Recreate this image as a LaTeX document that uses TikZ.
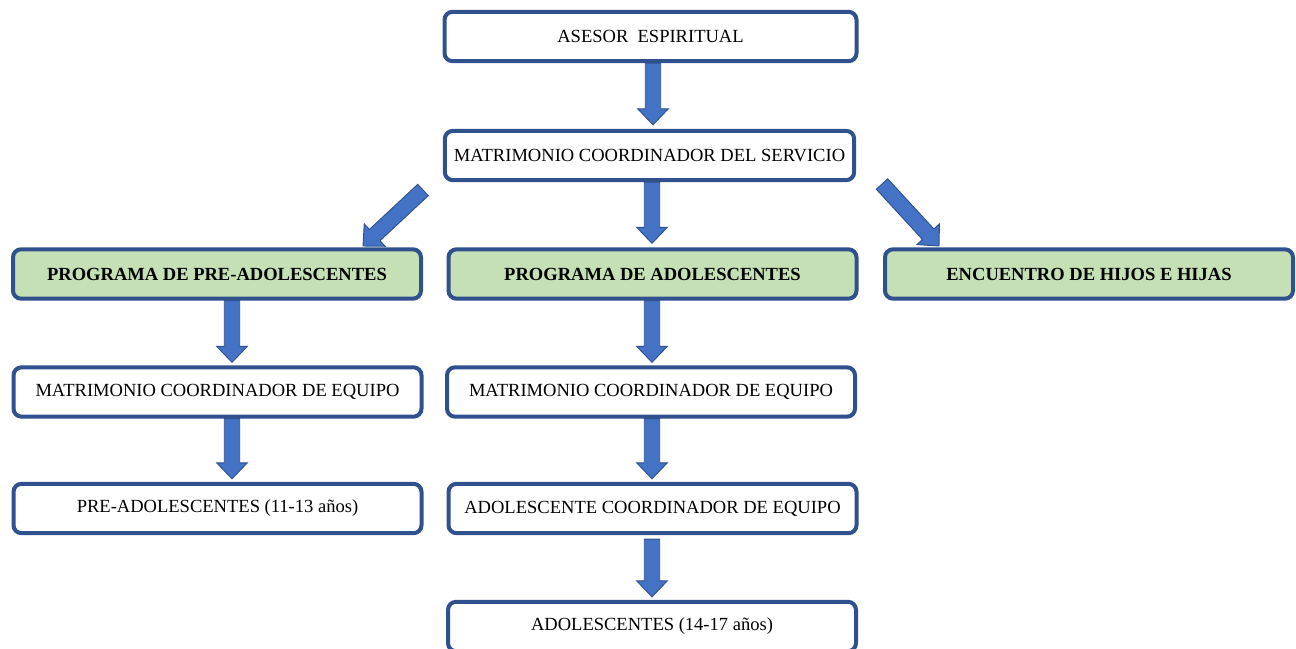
\documentclass[tikz,border=0pt]{standalone}
\usepackage{fontspec}
\setmainfont{Liberation Serif}
\usetikzlibrary{calc}
\definecolor{boxline}{HTML}{2F528F}
\definecolor{boxgreen}{HTML}{C5E0B4}
\definecolor{arrowfill}{HTML}{4472C4}
\newcommand{\blockarrow}[2]{%
  \path (#1) coordinate (ba-t) (#2) coordinate (ba-h);
  \path ($(ba-h)!12pt!(ba-t)$) coordinate (ba-n);
  \filldraw[barrow] ($(ba-t)!5.8pt!90:(ba-h)$) -- ($(ba-n)!5.8pt!-90:(ba-t)$)
    -- ($(ba-n)!11.5pt!-90:(ba-t)$) -- (ba-h) -- ($(ba-n)!11.5pt!90:(ba-t)$)
    -- ($(ba-n)!5.8pt!90:(ba-t)$) -- ($(ba-t)!5.8pt!-90:(ba-h)$) -- cycle;
}
\tikzset{
  box/.style={draw=boxline, line width=3pt, rounded corners=6pt, fill=white,
    minimum width=306pt, minimum height=37pt, inner sep=0pt,
    font=\fontsize{13.9}{16}\selectfont},
  gbox/.style={box, fill=boxgreen, font=\fontsize{13.9}{16}\selectfont\bfseries},
  barrow/.style={fill=arrowfill, draw=boxline, line width=0.7pt, line join=miter}
}
\begin{document}
\begin{tikzpicture}[x=0.75pt,y=-0.75pt]
\useasboundingbox (0,0) rectangle (1296,649);
\node[box, minimum width=309pt] (asesor) at (650.5,36.5) {ASESOR\ \ ESPIRITUAL};
\node[box, minimum width=307pt] (mcs) at (649.5,155.5) {MATRIMONIO COORDINADOR DEL SERVICIO};
\node[gbox] (pre) at (217,274) {PROGRAMA DE PRE-ADOLESCENTES};
\node[gbox] (ado) at (652.5,274) {PROGRAMA DE ADOLESCENTES};
\node[gbox] (enc) at (1089,274) {ENCUENTRO DE HIJOS E HIJAS};
\node[box] (mce1) at (217.5,392) {MATRIMONIO COORDINADOR DE EQUIPO};
\node[box] (mce2) at (651,392) {MATRIMONIO COORDINADOR DE EQUIPO};
\node[box] (pread) at (217.5,508.5) {PRE-ADOLESCENTES (11-13 años)};
\node[box] (adoc) at (652.5,508.5) {ADOLESCENTE COORDINADOR DE EQUIPO};
\node[box] (adol) at (652,626.5) {ADOLESCENTES (14-17 años)};
% arrows
\blockarrow{$(asesor.south)+(2.5,0)$}{$(mcs.north)+(3.5,-4)$}
\blockarrow{$(mcs.south)+(2.5,0)$}{$(ado.north)+(-0.5,-4)$}
\coordinate (dlt) at (423,190);
\coordinate (dlh) at (363,246);
\coordinate (drt) at (882,184);
\coordinate (drh) at (939,246);
\blockarrow{dlt}{dlh}
\blockarrow{drt}{drh}
\blockarrow{$(pre.south)+(15,0)$}{$(mce1.north)+(14.5,-3)$}
\blockarrow{$(mce1.south)+(14.5,0)$}{$(pread.north)+(14.5,-3)$}
\blockarrow{$(ado.south)+(-0.5,0)$}{$(mce2.north)+(1,-3)$}
\blockarrow{$(mce2.south)+(1,0)$}{$(adoc.north)+(-0.5,-3)$}
\blockarrow{$(adoc.south)+(-0.5,4)$}{$(adol.north)+(0,-3)$}
\end{tikzpicture}
\end{document}
